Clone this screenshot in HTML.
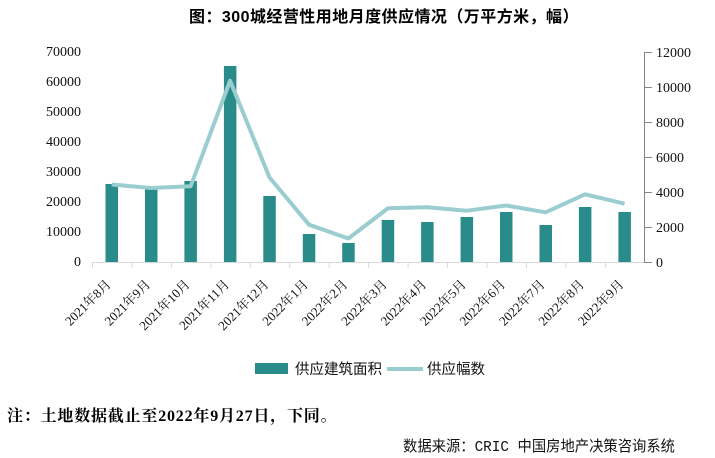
<!DOCTYPE html>
<html>
<head>
<meta charset="utf-8">
<style>
  html, body { margin: 0; padding: 0; background: #ffffff; }
  body { width: 715px; height: 458px; overflow: hidden; }
  svg { display: block; }
  .ax { font-family: "Liberation Serif", "Noto Serif CJK SC", serif; font-size: 14px; fill: #111; }
  .xl { font-family: "Liberation Serif", "Noto Serif CJK SC", serif; font-size: 13px; fill: #111; }
</style>
</head>
<body>
<svg width="715" height="458" viewBox="0 0 715 458" xmlns="http://www.w3.org/2000/svg">
  <!-- Title -->
  <text x="384" y="22" text-anchor="middle" font-family="'Liberation Sans','Noto Sans CJK SC',sans-serif" font-weight="bold" font-size="16" letter-spacing="0.45" fill="#000">图：300城经营性用地月度供应情况（万平方米，幅）</text>

  <!-- Left axis labels -->
  <g class="ax" text-anchor="end">
    <text x="81" y="56">70000</text>
    <text x="81" y="86">60000</text>
    <text x="81" y="116">50000</text>
    <text x="81" y="146">40000</text>
    <text x="81" y="176">30000</text>
    <text x="81" y="206">20000</text>
    <text x="81" y="236">10000</text>
    <text x="81" y="266">0</text>
  </g>

  <!-- Right axis -->
  <line x1="644.5" y1="52" x2="644.5" y2="262" stroke="#868686" stroke-width="1"/>
  <g stroke="#868686" stroke-width="1">
    <line x1="644" y1="52.5" x2="652" y2="52.5"/>
    <line x1="644" y1="87.5" x2="652" y2="87.5"/>
    <line x1="644" y1="122.5" x2="652" y2="122.5"/>
    <line x1="644" y1="157.5" x2="652" y2="157.5"/>
    <line x1="644" y1="192.5" x2="652" y2="192.5"/>
    <line x1="644" y1="227.5" x2="652" y2="227.5"/>
    <line x1="644" y1="262.5" x2="652" y2="262.5"/>
  </g>
  <g class="ax" text-anchor="start">
    <text x="656" y="57">12000</text>
    <text x="656" y="92">10000</text>
    <text x="656" y="127">8000</text>
    <text x="656" y="162">6000</text>
    <text x="656" y="197">4000</text>
    <text x="656" y="232">2000</text>
    <text x="656" y="267">0</text>
  </g>

  <!-- Bars -->
  <g fill="#2A8C8A">
    <rect x="105.5" y="184" width="12.5" height="78"/>
    <rect x="145" y="189.3" width="12.5" height="72.7"/>
    <rect x="184.4" y="181" width="12.5" height="81"/>
    <rect x="223.9" y="66" width="12.5" height="196"/>
    <rect x="263.3" y="196" width="12.5" height="66"/>
    <rect x="302.8" y="234" width="12.5" height="28"/>
    <rect x="342.2" y="243" width="12.5" height="19"/>
    <rect x="381.7" y="220" width="12.5" height="42"/>
    <rect x="421.1" y="222" width="12.5" height="40"/>
    <rect x="460.6" y="217" width="12.5" height="45"/>
    <rect x="500" y="212" width="12.5" height="50"/>
    <rect x="539.5" y="225" width="12.5" height="37"/>
    <rect x="578.9" y="207" width="12.5" height="55"/>
    <rect x="618.4" y="212" width="12.5" height="50"/>
  </g>

  <!-- X axis -->
  <line x1="92" y1="262.5" x2="644" y2="262.5" stroke="#D9D9D9" stroke-width="1"/>
  <g stroke="#D9D9D9" stroke-width="1">
    <line x1="92.5" y1="262" x2="92.5" y2="268"/>
    <line x1="131.9" y1="262" x2="131.9" y2="268"/>
    <line x1="171.4" y1="262" x2="171.4" y2="268"/>
    <line x1="210.8" y1="262" x2="210.8" y2="268"/>
    <line x1="250.3" y1="262" x2="250.3" y2="268"/>
    <line x1="289.7" y1="262" x2="289.7" y2="268"/>
    <line x1="329.2" y1="262" x2="329.2" y2="268"/>
    <line x1="368.6" y1="262" x2="368.6" y2="268"/>
    <line x1="408.1" y1="262" x2="408.1" y2="268"/>
    <line x1="447.5" y1="262" x2="447.5" y2="268"/>
    <line x1="487" y1="262" x2="487" y2="268"/>
    <line x1="526.4" y1="262" x2="526.4" y2="268"/>
    <line x1="565.9" y1="262" x2="565.9" y2="268"/>
    <line x1="605.3" y1="262" x2="605.3" y2="268"/>
  </g>

  <!-- Line series -->
  <polyline fill="none" stroke="#9ACDD0" stroke-width="4" stroke-linejoin="round"
    points="111.7,184.5 151.2,188 190.6,186.3 230.1,80.7 269.5,177.5 309,224.7 348.4,238.5 387.9,208.3 427.3,207.3 466.8,210.7 506.2,205.5 545.7,212.3 585.1,194.3 624.6,203.7"/>

  <!-- X labels -->
  <g class="xl" text-anchor="end">
    <text x="111.7" y="285" transform="rotate(-45 111.7 285)">2021年8月</text>
    <text x="151.2" y="285" transform="rotate(-45 151.2 285)">2021年9月</text>
    <text x="190.6" y="285" transform="rotate(-45 190.6 285)">2021年10月</text>
    <text x="230.1" y="285" transform="rotate(-45 230.1 285)">2021年11月</text>
    <text x="269.5" y="285" transform="rotate(-45 269.5 285)">2021年12月</text>
    <text x="309" y="285" transform="rotate(-45 309 285)">2022年1月</text>
    <text x="348.4" y="285" transform="rotate(-45 348.4 285)">2022年2月</text>
    <text x="387.9" y="285" transform="rotate(-45 387.9 285)">2022年3月</text>
    <text x="427.3" y="285" transform="rotate(-45 427.3 285)">2022年4月</text>
    <text x="466.8" y="285" transform="rotate(-45 466.8 285)">2022年5月</text>
    <text x="506.2" y="285" transform="rotate(-45 506.2 285)">2022年6月</text>
    <text x="545.7" y="285" transform="rotate(-45 545.7 285)">2022年7月</text>
    <text x="585.1" y="285" transform="rotate(-45 585.1 285)">2022年8月</text>
    <text x="624.6" y="285" transform="rotate(-45 624.6 285)">2022年9月</text>
  </g>

  <!-- Legend -->
  <rect x="255" y="363" width="33" height="11" fill="#2A8C8A"/>
  <text x="295" y="374" font-family="'Liberation Sans','Noto Sans CJK SC',sans-serif" font-size="14.5" fill="#111">供应建筑面积</text>
  <line x1="387" y1="369" x2="423" y2="369" stroke="#9ACDD0" stroke-width="4"/>
  <text x="427" y="374" font-family="'Liberation Sans','Noto Sans CJK SC',sans-serif" font-size="14.5" fill="#111">供应幅数</text>

  <!-- Note -->
  <text x="7" y="421" font-family="'Liberation Serif','Noto Serif CJK SC',serif" font-weight="bold" font-size="16" fill="#000" letter-spacing="0.8">注：土地数据截止至2022年9月27日，下同。</text>

  <!-- Source -->
  <text x="403" y="451" font-family="'Liberation Mono','Noto Sans CJK SC',sans-serif" font-size="15" fill="#111" textLength="272" lengthAdjust="spacingAndGlyphs">数据来源：CRIC 中国房地产决策咨询系统</text>
</svg>
</body>
</html>
